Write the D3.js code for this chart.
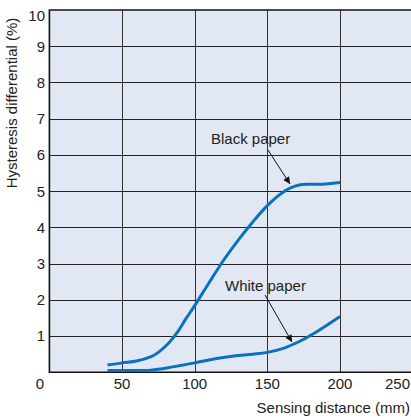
<!DOCTYPE html>
<html>
<head>
<meta charset="utf-8">
<script src="https://cdn.jsdelivr.net/npm/d3@7"></script>
<style>
  body { margin: 0; background: #fff; }
  svg { display: block; font-family: "Liberation Sans", Arial, Helvetica, sans-serif; }
</style>
</head>
<body>
<svg id="chart" width="411" height="420"></svg>
<script>
// readings
var distBlack = [40, 50, 60, 70, 75, 82, 88, 94, 100, 110, 120, 130, 140, 150, 160, 166, 172, 180, 190, 200];
var hystBlack = [0.2, 0.26, 0.31, 0.43, 0.55, 0.8, 1.1, 1.48, 1.84, 2.48, 3.1, 3.65, 4.15, 4.6, 4.95, 5.09, 5.17, 5.19, 5.2, 5.24];

var distWhite = [40, 55, 70, 85, 100, 115, 127, 140, 150, 161, 172, 184, 200];
var hystWhite = [0.05, 0.05, 0.06, 0.15, 0.26, 0.38, 0.45, 0.5, 0.55, 0.66, 0.85, 1.12, 1.54];

var xTicks = [0, 50, 100, 150, 200, 250];
var yTicks = [1, 2, 3, 4, 5, 6, 7, 8, 9, 10];

var svg = d3.select("#chart");

var x = d3.scaleLinear().domain([0, 250]).range([49.4, 412.6]);
var y = d3.scaleLinear().domain([0, 10]).range([372.3, 10]);

// plot background
svg.append("rect")
  .attr("x", x(0)).attr("y", y(10))
  .attr("width", x(250) - x(0)).attr("height", y(0) - y(10))
  .attr("fill", "#e1e8f4");

// grid
svg.append("g").selectAll("line")
  .data(xTicks.slice(1))
  .join("line")
  .attr("x1", d => Math.round(x(d)) + 0.5).attr("x2", d => Math.round(x(d)) + 0.5)
  .attr("y1", y(10)).attr("y2", y(0))
  .attr("stroke", "#333").attr("stroke-width", 1);

svg.append("g").selectAll("line")
  .data(yTicks.slice(0, -1))
  .join("line")
  .attr("x1", x(0)).attr("x2", x(250))
  .attr("y1", d => Math.round(y(d)) + 0.5).attr("y2", d => Math.round(y(d)) + 0.5)
  .attr("stroke", "#222").attr("stroke-width", 1);

// frame: left, bottom, top
svg.append("path")
  .attr("d", "M" + x(250) + "," + y(10) + "H" + x(0) + "V" + y(0) + "H" + x(250))
  .attr("fill", "none").attr("stroke", "#111").attr("stroke-width", 1.6);

// tick labels
svg.append("g").selectAll("text")
  .data(yTicks)
  .join("text")
  .attr("x", 45)
  .attr("y", d => d == 10 ? y(d) + 6 : y(d))
  .attr("dy", "0.36em")
  .attr("text-anchor", "end")
  .attr("font-size", 15)
  .attr("fill", "#222")
  .text(d => d);

// 0 sits left of the origin, 250 is pulled in from the right edge
svg.append("g").selectAll("text")
  .data(xTicks)
  .join("text")
  .attr("x", d => d == 0 ? 40 : (d == 250 ? 410 : x(d)))
  .attr("y", 389)
  .attr("text-anchor", d => d == 250 ? "end" : "middle")
  .attr("font-size", 15)
  .attr("fill", "#222")
  .text(d => d);

// axis titles
svg.append("text")
  .attr("x", 410).attr("y", 413)
  .attr("text-anchor", "end")
  .attr("font-size", 15)
  .attr("fill", "#222")
  .text("Sensing distance (mm)");

svg.append("text")
  .attr("transform", "translate(17,103) rotate(-90)")
  .attr("text-anchor", "middle")
  .attr("font-size", 15)
  .attr("fill", "#222")
  .text("Hysteresis differential (%)");

// curves
var line = d3.line()
  .curve(d3.curveCatmullRom.alpha(0.5))
  .x(d => x(d[0]))
  .y(d => y(d[1]));

svg.append("path")
  .datum(d3.zip(distBlack, hystBlack))
  .attr("d", line)
  .attr("fill", "none").attr("stroke", "#0a72bd").attr("stroke-width", 3);

svg.append("path")
  .datum(d3.zip(distWhite, hystWhite))
  .attr("d", line)
  .attr("fill", "none").attr("stroke", "#0a72bd").attr("stroke-width", 3);

// annotations
svg.append("defs").append("marker")
  .attr("id", "arrow")
  .attr("viewBox", "0 0 10 10")
  .attr("refX", 10).attr("refY", 5)
  .attr("markerWidth", 9).attr("markerHeight", 7)
  .attr("markerUnits", "userSpaceOnUse")
  .attr("orient", "auto")
  .append("path")
  .attr("d", "M0,0L10,5L0,10z")
  .attr("fill", "#111");

var notes = [
  {label: "Black paper", tx: 211, ty: 144, x1: 268, y1: 150, x2: 290, y2: 184},
  {label: "White paper", tx: 225, ty: 291, x1: 265, y1: 295, x2: 292, y2: 342}
];

svg.append("g").selectAll("line")
  .data(notes)
  .join("line")
  .attr("x1", d => d.x1).attr("y1", d => d.y1)
  .attr("x2", d => d.x2).attr("y2", d => d.y2)
  .attr("stroke", "#111").attr("stroke-width", 1)
  .attr("marker-end", "url(#arrow)");

svg.append("g").selectAll("text")
  .data(notes)
  .join("text")
  .attr("x", d => d.tx).attr("y", d => d.ty)
  .attr("font-size", 15)
  .attr("fill", "#222")
  .text(d => d.label);
</script>
</body>
</html>
